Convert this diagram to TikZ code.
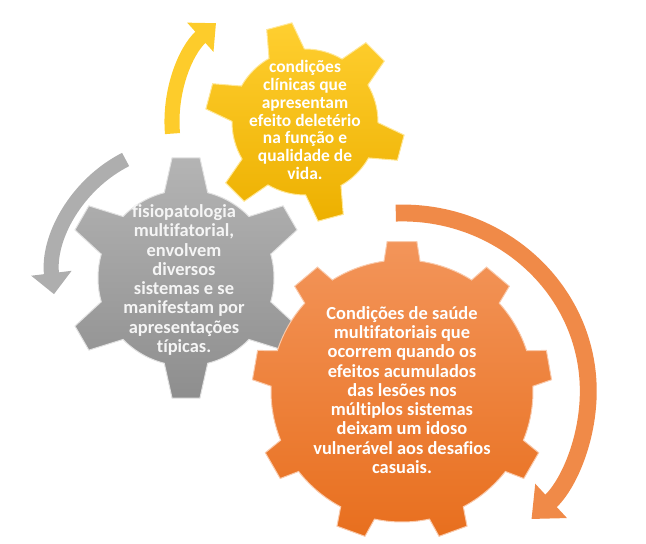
\documentclass[tikz,border=0pt]{standalone}
\usepackage{fontspec}
\setmainfont{Carlito}[Ligatures=CommonOff]
\usetikzlibrary{arrows.meta}

\definecolor{oTop}{HTML}{F3955A}
\definecolor{oBot}{HTML}{E86F1E}
\definecolor{gTop}{HTML}{B4B4B4}
\definecolor{gBot}{HTML}{8E8E8E}
\definecolor{yTop}{HTML}{FFCF30}
\definecolor{yBot}{HTML}{EDB000}

% teeth, rotation, body radius, tip radius, base half angle, tip half angle
\newcommand{\cog}[6]{(#2-#5:#3) \foreach \tooth in {1,...,#1}{
    -- ({#2+(\tooth-1)*360/#1-#5}:#3) -- ({#2+(\tooth-1)*360/#1-#6}:#4)
    -- ({#2+(\tooth-1)*360/#1+#6}:#4) -- ({#2+(\tooth-1)*360/#1+#5}:#3)
    arc[start angle={#2+(\tooth-1)*360/#1+#5}, end angle={#2+\tooth*360/#1-#5}, radius=#3]
  } -- cycle}

\begin{document}
\begin{tikzpicture}[x=0.025cm, y=0.025cm,
    gearY/.style={top color=yTop, bottom color=yBot, draw=yTop!50!white, line width=0.7pt},
    gearG/.style={top color=gTop, bottom color=gBot, draw=gTop!40!white, line width=0.7pt},
    gearO/.style={top color=oTop, bottom color=oBot, draw=oTop!50!white, line width=0.7pt},
    label/.style={align=center, text=white, font=\bfseries\fontsize{13.1}{13.7}\selectfont},
    bandY/.style={draw=yTop!90!yBot, line width=10.7pt, -{Triangle[width=27pt, length=15pt]}},
    bandG/.style={draw=gTop!85!gBot, line width=10.7pt, -{Triangle[width=28pt, length=15pt]}},
    bandO/.style={draw=oTop!70!oBot, line width=12pt, -{Triangle[width=32pt, length=19pt]}}]

\useasboundingbox (0,0) rectangle (646,544);

\coordinate (cY) at (305,422);
\coordinate (cG) at (186,266);
\coordinate (cO) at (402,153);

% curved arrows
\draw[bandY] (cY) ++(185:133) arc[start angle=185, end angle=132, radius=133];
\draw[bandG] (cG) ++(117:133) arc[start angle=117, end angle=187, radius=133];
\draw[bandO] (cO) ++(92:178) arc[start angle=92, end angle=-46, x radius=186, y radius=178];

% top gear
\begin{scope}[shift={(cY)}]
  \path[gearY] \cog{6}{105}{73}{100}{14.5}{7.5};
\end{scope}

% left gear
\begin{scope}[shift={(cG)}]
  \path[gearG] \cog{6}{90}{88}{121}{14.3}{6.6};
\end{scope}

% big gear
\begin{scope}[shift={(cO)}]
  \path[gearO] \cog{9}{90}{131}{150}{7.9}{5.7};
\end{scope}

\node[label, font=\bfseries\fontsize{12.4}{12.7}\selectfont] (tY) at (305,424)
  {condições\\clínicas que\\apresentam\\efeito deletério\\na função e\\qualidade de\\vida.};
\node[label, text=gray!8] (tG) at (184,264)
  {fisiopatologia\\multifatorial,\\envolvem\\diversos\\sistemas e se\\manifestam por\\apresentações\\típicas.};
\node[label] (tO) at (402,154)
  {Condições de saúde\\multifatoriais que\\ocorrem quando os\\efeitos acumulados\\das lesões nos\\múltiplos sistemas\\deixam um idoso\\vulnerável aos desafios\\casuais.};

\end{tikzpicture}
\end{document}
